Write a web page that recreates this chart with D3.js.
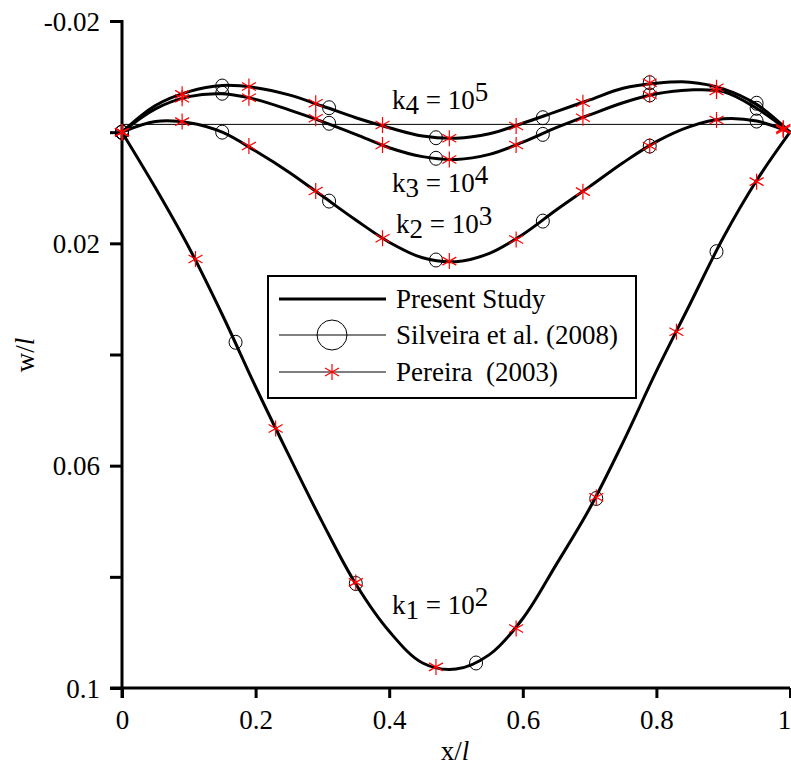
<!DOCTYPE html>
<html>
<head>
<meta charset="utf-8">
<script src="https://cdn.jsdelivr.net/npm/d3@7"></script>
<style>
  body { margin: 0; background: #fff; }
  text { font-family: "Liberation Serif", "Times New Roman", serif; }
</style>
</head>
<body>
<script>
// present study curves, sampled every 0.05 along x/l
var xs = [0, 0.05, 0.1, 0.15, 0.2, 0.25, 0.3, 0.35, 0.4, 0.45, 0.5,
          0.55, 0.6, 0.65, 0.7, 0.75, 0.8, 0.85, 0.9, 0.95, 1];
var k1 = [0, 0.0100, 0.0207, 0.0328, 0.0458, 0.0582, 0.0702, 0.0813, 0.0898, 0.0955, 0.0966,
          0.0940, 0.0875, 0.0778, 0.0677, 0.0558, 0.0430, 0.0310, 0.0190, 0.0087, 0];
var k2 = [0, -0.0019, -0.0017, 0.0000, 0.0034, 0.0072, 0.0115, 0.0158, 0.0198, 0.0226, 0.0233,
          0.0218, 0.0184, 0.0140, 0.0098, 0.0055, 0.0017, -0.0010, -0.0024, -0.0020, 0];
var k3 = [0, -0.0042, -0.0064, -0.0069, -0.0059, -0.0040, -0.0019, 0.0004, 0.0028, 0.0044, 0.0049,
          0.0040, 0.0018, -0.0008, -0.0031, -0.0053, -0.0069, -0.0076, -0.0073, -0.0043, 0];
var k4 = [0, -0.0048, -0.0073, -0.0084, -0.0080, -0.0067, -0.0047, -0.0026, -0.0008, 0.0007, 0.0011,
          0.0003, -0.0016, -0.0037, -0.0058, -0.0079, -0.0088, -0.0090, -0.0078, -0.0050, 0];

// Silveira et al. (2008) - circles
var silX1 = [0, 0.17, 0.35, 0.53, 0.71, 0.89];
var silK1 = [0, 0.0378, 0.0812, 0.0955, 0.0659, 0.0215];
var silX = [0, 0.15, 0.31, 0.47, 0.63, 0.79, 0.95];
var silK2 = [0, 0.0000, 0.0124, 0.0230, 0.0160, 0.0025, -0.0020];
var silK3 = [0, -0.0070, -0.0016, 0.0047, 0.0004, -0.0067, -0.0043];
var silK4 = [0, -0.0083, -0.0044, 0.0010, -0.0026, -0.0089, -0.0052];

// Pereira (2003) - stars
var perX1 = [0, 0.11, 0.23, 0.35, 0.47, 0.59, 0.71, 0.83, 0.95];
var perK1 = [0, 0.0228, 0.0533, 0.0810, 0.0962, 0.0893, 0.0657, 0.0359, 0.0089];
var perX = [0, 0.09, 0.19, 0.29, 0.39, 0.49, 0.59, 0.69, 0.79, 0.89, 0.99];
var perK2 = [0, -0.0019, 0.0025, 0.0106, 0.0191, 0.0232, 0.0193, 0.0107, 0.0025, -0.0022, -0.0004];
var perK3 = [0, -0.0061, -0.0062, -0.0025, 0.0023, 0.0049, 0.0023, -0.0026, -0.0067, -0.0074, -0.0006];
var perK4 = [0, -0.0068, -0.0082, -0.0052, -0.0013, 0.0011, -0.0011, -0.0053, -0.0089, -0.0080, -0.0007];

// thin reference line across the top
var refX = [0, 0.99];
var refW = [-0.0014, -0.0014];

var xTicks = [0, 0.2, 0.4, 0.6, 0.8, 1];
var xLabels = ["0", "0.2", "0.4", "0.6", "0.8", "1"];
var yTicks = [-0.02, 0, 0.02, 0.04, 0.06, 0.08, 0.1];
var yLabels = ["-0.02", "", "0.02", "", "0.06", "", "0.1"];
var legendNames = ["Present Study", "Silveira et al. (2008)", "Pereira  (2003)"];

var width = 791, height = 765, fs = "27px";

var x = d3.scaleLinear().domain([0, 1]).range([122, 790]);
var y = d3.scaleLinear().domain([-0.02, 0.1]).range([21, 688]);

var svg = d3.select("body").append("svg")
        .attr("width", width)
        .attr("height", height);

function zip(a, b) {
    return a.map(function (v, i) { return [v, b[i]]; });
}

var line = d3.line()
        .x(function (d) { return x(d[0]); })
        .y(function (d) { return y(d[1]); })
        .curve(d3.curveCatmullRom.alpha(0.5));

// reference line
svg.append("path")
    .attr("d", d3.line().x(function (d) { return x(d[0]); }).y(function (d) { return y(d[1]); })(zip(refX, refW)))
    .attr("fill", "none")
    .attr("stroke", "#000")
    .attr("stroke-width", 1);

// present study curves
[k1, k2, k3, k4].forEach(function (k) {
    svg.append("path")
        .attr("d", line(zip(xs, k)))
        .attr("fill", "none")
        .attr("stroke", "#000")
        .attr("stroke-width", 3);
});

// axes
var yAxis = d3.axisLeft(y)
        .tickValues(yTicks)
        .tickSize(12)
        .tickPadding(10)
        .tickFormat(function (d, i) { return yLabels[i]; });
var gy = svg.append("g").attr("transform", "translate(" + x(0) + ",0)").call(yAxis);

var xAxis = d3.axisBottom(x)
        .tickValues(xTicks)
        .tickSize(10)
        .tickPadding(12)
        .tickFormat(function (d, i) { return xLabels[i]; });
var gx = svg.append("g").attr("transform", "translate(0," + y(0.1) + ")").call(xAxis);

[gx, gy].forEach(function (g) {
    g.select(".domain").remove();
    g.selectAll(".tick line").attr("stroke", "#000").attr("stroke-width", 3);
    g.selectAll(".tick text")
        .attr("fill", "#000")
        .style("font-size", fs)
        .style("font-family", "Liberation Serif");
});
gy.selectAll(".tick text").attr("dy", "0.34em");
// last x label sits on the page edge
gx.selectAll(".tick text").filter(function (d) { return d === 1; }).attr("dx", -6);

svg.append("line")
    .attr("x1", x(0)).attr("x2", x(0))
    .attr("y1", y(-0.02) - 1).attr("y2", y(0.1) + 10)
    .attr("stroke", "#000").attr("stroke-width", 3);
svg.append("line")
    .attr("x1", x(0) - 12).attr("x2", x(1))
    .attr("y1", y(0.1)).attr("y2", y(0.1))
    .attr("stroke", "#000").attr("stroke-width", 3);

// axis titles
svg.append("text")
    .attr("x", 455).attr("y", 760)
    .attr("text-anchor", "middle")
    .style("font-size", fs)
    .html('x/<tspan font-style="italic">l</tspan>');

svg.append("text")
    .attr("transform", "translate(34,355) rotate(-90)")
    .attr("text-anchor", "middle")
    .style("font-size", fs)
    .html('w/<tspan font-style="italic">l</tspan>');

// markers
function circles(xv, yv) {
    svg.selectAll(null)
        .data(zip(xv, yv))
        .enter().append("ellipse")
        .attr("cx", function (d) { return x(d[0]); })
        .attr("cy", function (d) { return y(d[1]); })
        .attr("rx", 6.5)
        .attr("ry", 7)
        .attr("fill", "none")
        .attr("stroke", "#000")
        .attr("stroke-width", 1);
}

var starPath = "M0,-8V8M-7,-4L7,4M-7,4L7,-4";
function stars(xv, yv) {
    svg.selectAll(null)
        .data(zip(xv, yv))
        .enter().append("path")
        .attr("d", starPath)
        .attr("transform", function (d) { return "translate(" + x(d[0]) + "," + y(d[1]) + ")"; })
        .attr("fill", "none")
        .attr("stroke", "#ff0000")
        .attr("stroke-width", 1.2);
}

circles(silX1, silK1);
circles(silX, silK2);
circles(silX, silK3);
circles(silX, silK4);
stars(perX1, perK1);
stars(perX, perK2);
stars(perX, perK3);
stars(perX, perK4);

// curve labels
var labels = [
    { k: "4", p: "5", x: 392, y: 109 },
    { k: "3", p: "4", x: 392, y: 192 },
    { k: "2", p: "3", x: 396, y: 233 },
    { k: "1", p: "2", x: 392, y: 614 }
];
labels.forEach(function (l) {
    var t = svg.append("text")
        .attr("x", l.x).attr("y", l.y)
        .style("font-size", fs);
    t.append("tspan").text("k");
    t.append("tspan").attr("dy", 5).text(l.k);
    t.append("tspan").attr("dy", -5).text(" = 10");
    t.append("tspan").attr("dy", -8).text(l.p);
});

// legend
var legend = svg.append("g");
legend.append("rect")
    .attr("x", 268).attr("y", 276)
    .attr("width", 368).attr("height", 122)
    .attr("fill", "#fff")
    .attr("stroke", "#000")
    .attr("stroke-width", 2);

var rows = [299, 335, 372];
rows.forEach(function (ry, i) {
    legend.append("line")
        .attr("x1", 279).attr("x2", 386)
        .attr("y1", ry).attr("y2", ry)
        .attr("stroke", "#000")
        .attr("stroke-width", i === 0 ? 3 : 1);
    legend.append("text")
        .attr("x", 396).attr("y", ry + 9)
        .style("font-size", fs)
        .style("white-space", "pre")
        .text(legendNames[i]);
});
legend.append("circle")
    .attr("cx", 332).attr("cy", rows[1]).attr("r", 15)
    .attr("fill", "none").attr("stroke", "#000").attr("stroke-width", 1);
legend.append("path")
    .attr("d", starPath)
    .attr("transform", "translate(332," + rows[2] + ")")
    .attr("fill", "none").attr("stroke", "#ff0000").attr("stroke-width", 1.2);
</script>
</body>
</html>
